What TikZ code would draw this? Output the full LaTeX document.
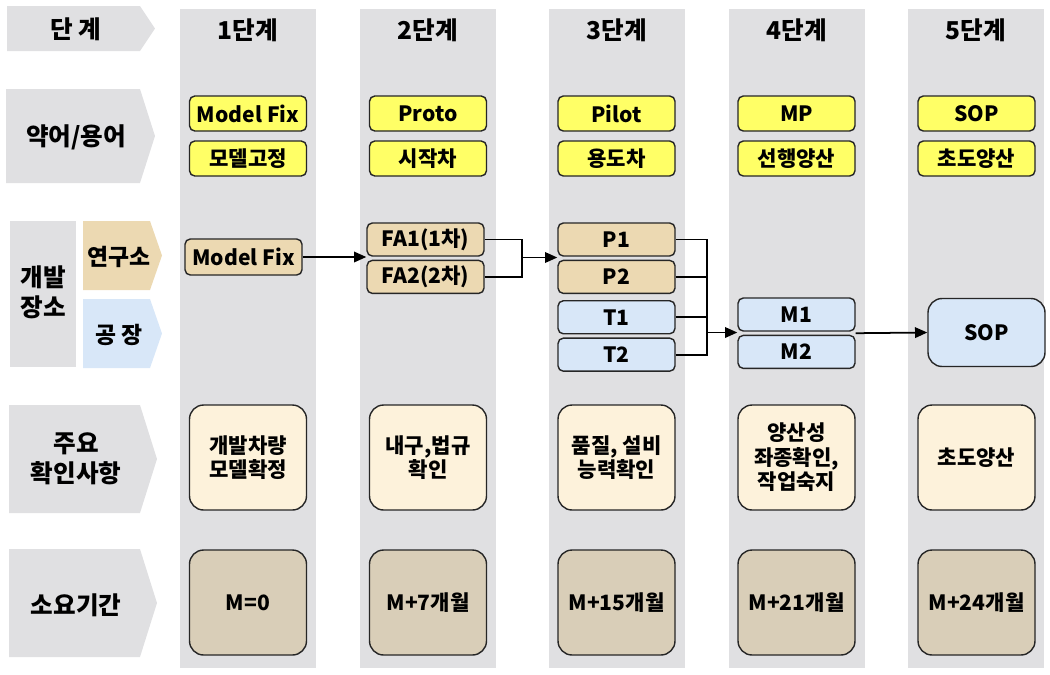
\documentclass[tikz,border=0pt]{standalone}
\usepackage{fontspec}
\setmainfont{Noto Sans CJK KR}
\usetikzlibrary{arrows.meta, positioning, calc}
\definecolor{marble}{RGB}{224,224,226}
\definecolor{labtan}{RGB}{236,217,178}
\definecolor{plantblue}{RGB}{216,231,248}
\definecolor{termyellow}{RGB}{255,255,102}
\definecolor{checkcream}{RGB}{253,242,219}
\definecolor{periodtan}{RGB}{217,206,184}

\begin{document}
\begin{tikzpicture}[
  x=0.02cm, y=-0.02cm,
  column/.style={fill=marble, draw=none},
  chev/.style={fill=marble, draw=none},
  hdrtext/.style={font=\fontsize{14}{17}\selectfont\bfseries, align=center, inner sep=0pt},
  box/.style={rectangle, rounded corners=3pt, draw=black!85, line width=0.8pt, minimum width=2.34cm, inner sep=1pt, align=center, font=\fontsize{12}{14}\selectfont\bfseries},
  term/.style={box, fill=termyellow, minimum height=0.7cm},
  lab/.style={box, fill=labtan, minimum height=0.66cm},
  plant/.style={box, fill=plantblue, minimum height=0.66cm},
  bigbox/.style={box, rounded corners=8pt, minimum height=2.1cm},
  arrow/.style={-{Triangle[length=7pt, width=6pt]}, line width=1pt, black},
  link/.style={line width=1pt, black}
]
  \useasboundingbox (0,0) rectangle (1050,674);

  % stage columns
  \foreach \x/\n in {180/1, 360/2, 549/3, 729/4, 908/5} {
    \fill[column] (\x,9) rectangle ++(136,659);
    \node[hdrtext] (st\n) at (\x+68,30) {{\n}단계};
  }

  % row headers
  \fill[chev] (7,6) -- (140,6) -- (155,28.5) -- (140,51) -- (7,51) -- cycle;
  \node[hdrtext] (hstage) at (76,29) {단 계};
  \fill[chev] (6,89) -- (140,89) -- (155,136) -- (140,183) -- (6,183) -- cycle;
  \node[hdrtext] (hterm) at (76,137) {약어/용어};
  \fill[chev] (10,221) rectangle (76,367);
  \node[hdrtext] (hsite) at (43,292) {개발\\장소};
  \fill[labtan] (83,221) -- (150,221) -- (162,255.5) -- (150,290) -- (83,290) -- cycle;
  \node[hdrtext, font=\fontsize{13}{15}\selectfont\bfseries] (hlab) at (119,257) {연구소};
  \fill[plantblue] (83,299) -- (150,299) -- (162,333.5) -- (150,368) -- (83,368) -- cycle;
  \node[hdrtext, font=\fontsize{13}{15}\selectfont\bfseries] (hplant) at (119,335) {공 장};
  \fill[chev] (9,405) -- (140,405) -- (157,459) -- (140,513) -- (9,513) -- cycle;
  \node[hdrtext] (hcheck) at (76,459) {주요\\확인사항};
  \fill[chev] (9,549) -- (140,549) -- (157,603) -- (140,657) -- (9,657) -- cycle;
  \node[hdrtext] (hperiod) at (76,605) {소요기간};

  % abbreviations / terms
  \node[term] (t1a) at (248,113.5) {Model Fix};
  \node[term] (t1b) at (248,158.5) {모델고정};
  \node[term] (t2a) at (428,113.5) {Proto};
  \node[term] (t2b) at (428,158.5) {시작차};
  \node[term] (t3a) at (616.5,113.5) {Pilot};
  \node[term] (t3b) at (616.5,158.5) {용도차};
  \node[term] (t4a) at (796.5,113.5) {MP};
  \node[term] (t4b) at (796.5,158.5) {선행양산};
  \node[term] (t5a) at (976.5,113.5) {SOP};
  \node[term] (t5b) at (976.5,158.5) {초도양산};

  % development sites
  \node[lab, minimum height=0.72cm] (mf) at (243.5,257) {Model Fix};
  \node[lab] (fa1) at (425.5,239.5) {FA1(1차)};
  \node[lab, below=1.7pt of fa1] (fa2) {FA2(2차)};
  \node[lab] (p1) at (616.5,239.5) {P1};
  \node[lab, below=1.7pt of p1] (p2) {P2};
  \node[plant, below=3.4pt of p2] (t1) {T1};
  \node[plant, below=1.7pt of t1] (t2) {T2};
  \node[plant] (m1) at (796.5,314.5) {M1};
  \node[plant, below=1.7pt of m1] (m2) {M2};
  \node[plant, rounded corners=8pt, minimum height=1.36cm] (sop) at (986.5,332.5) {SOP};

  % connectors
  \coordinate (j1) at (522,257.5);
  \coordinate (j2) at (707,332.5);
  \draw[arrow] (mf.east) -- (mf.east -| fa1.west);
  \draw[link] (fa1.east) -| (j1);
  \draw[link] (fa2.east) -| (j1);
  \draw[arrow] (j1) -- (j1 -| p1.west);
  \draw[link] (p1.east) -| (j2);
  \draw[link] (p2.east) -| (j2);
  \draw[link] (t1.east) -| (j2);
  \draw[link] (t2.east) -| (j2);
  \draw[arrow] (j2) -- (j2 -| m1.west);
  \draw[arrow] ($(m1.south east)!0.5!(m2.north east)$) -- (sop.west |- j2);

  % main checks
  \node[bigbox, fill=checkcream] (c1) at (248,457.5) {개발차량\\모델확정};
  \node[bigbox, fill=checkcream] (c2) at (428,457.5) {내구,법규\\확인};
  \node[bigbox, fill=checkcream] (c3) at (616.5,457.5) {품질, 설비\\능력확인};
  \node[bigbox, fill=checkcream] (c4) at (796.5,457.5) {양산성\\좌종확인,\\작업숙지};
  \node[bigbox, fill=checkcream] (c5) at (976.5,457.5) {초도양산};

  % lead time
  \node[bigbox, fill=periodtan] (d1) at (248,602.5) {M=0};
  \node[bigbox, fill=periodtan] (d2) at (428,602.5) {M+7개월};
  \node[bigbox, fill=periodtan] (d3) at (616.5,602.5) {M+15개월};
  \node[bigbox, fill=periodtan] (d4) at (796.5,602.5) {M+21개월};
  \node[bigbox, fill=periodtan] (d5) at (976.5,602.5) {M+24개월};
\end{tikzpicture}
\end{document}
